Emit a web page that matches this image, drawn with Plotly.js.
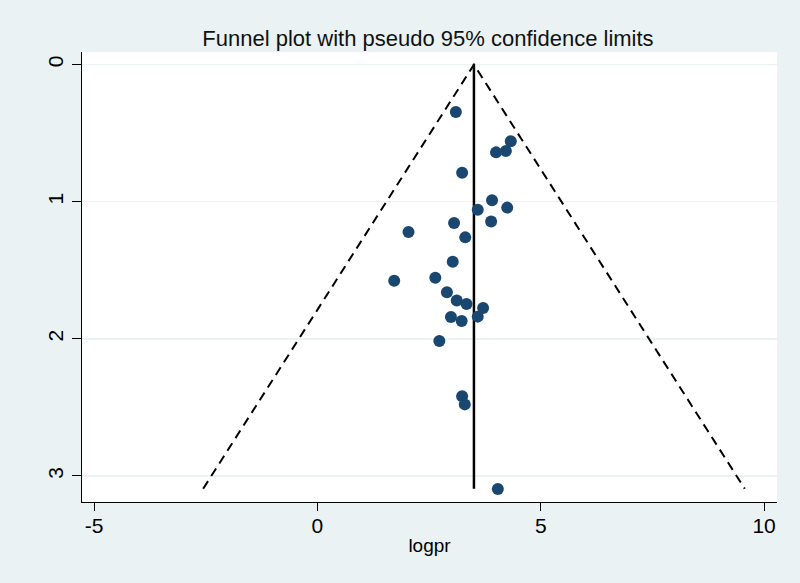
<!DOCTYPE html>
<html>
<head>
<meta charset="utf-8">
<script src="https://cdn.plot.ly/plotly-3.0.1.min.js"></script>
<style>html,body{margin:0;padding:0;background:#eaf2f3;}#chart{width:800px;height:583px;}</style>
</head>
<body>
<div id="chart"></div>
<script>
// Study effect estimates (logpr) and their standard errors
const logpr = [3.10, 4.33, 4.22, 4.00, 3.24, 3.91, 4.25, 3.59, 3.89, 3.06, 2.04, 3.31,
               3.03, 1.72, 2.64, 2.90, 3.12, 3.34, 3.71, 2.99, 3.59, 3.23, 2.73,
               3.24, 3.30, 4.04];
const se = [0.346, 0.559, 0.630, 0.640, 0.788, 0.990, 1.043, 1.058, 1.145, 1.155, 1.221, 1.260,
            1.437, 1.576, 1.554, 1.661, 1.721, 1.746, 1.775, 1.841, 1.838, 1.870, 2.016,
            2.419, 2.478, 3.095];
const pooled = 3.505;     // pooled estimate
const seMax = 3.093;      // largest standard error
const z = 1.96;

const xTicks = [-5, 0, 5, 10];
const yTicks = [0, 1, 2, 3];

const funnelX = [pooled - z * seMax, pooled, pooled + z * seMax];
const funnelY = [seMax, 0, seMax];

const traces = [
  {x: funnelX, y: funnelY, mode: 'lines', type: 'scatter',
   line: {color: '#000', width: 2, dash: '9px,6px'}, hoverinfo: 'skip'},
  {x: [pooled, pooled], y: [0, seMax], mode: 'lines', type: 'scatter',
   line: {color: '#000', width: 2.5}, hoverinfo: 'skip'},
  {x: logpr, y: se, mode: 'markers', type: 'scatter',
   marker: {color: '#1a476f', size: 12}}
];

const layout = {
  width: 800, height: 583,
  paper_bgcolor: '#eaf2f3', plot_bgcolor: '#ffffff',
  showlegend: false,
  margin: {l: 82, r: 23, t: 52, b: 81},
  font: {family: 'Liberation Sans, Arial, sans-serif', color: '#000'},
  title: {text: 'Funnel plot with pseudo 95% confidence limits', x: 0.535, xanchor: 'center',
          y: 0.935, yanchor: 'middle', font: {size: 22, color: '#111'}},
  xaxis: {range: [-5.27, 10.29], tickvals: xTicks, ticktext: xTicks.map(String),
          showgrid: false, zeroline: false, showline: true, linecolor: '#000', linewidth: 1.2,
          ticks: 'outside', ticklen: 8, tickcolor: '#000', tickfont: {size: 21},
          ticklabelstandoff: -3,
          title: {text: 'logpr', font: {size: 19}, standoff: 2}},
  yaxis: {range: [3.19, -0.092], tickvals: yTicks, ticktext: yTicks.map(String),
          showgrid: true, gridcolor: '#eaf2f3', gridwidth: 1.5, zeroline: false,
          showline: true, linecolor: '#000', linewidth: 1.2,
          ticks: 'outside', ticklen: 9, tickcolor: '#000', tickangle: -90, tickfont: {size: 21}}
};

Plotly.newPlot('chart', traces, layout, {staticPlot: true});
</script>
</body>
</html>
